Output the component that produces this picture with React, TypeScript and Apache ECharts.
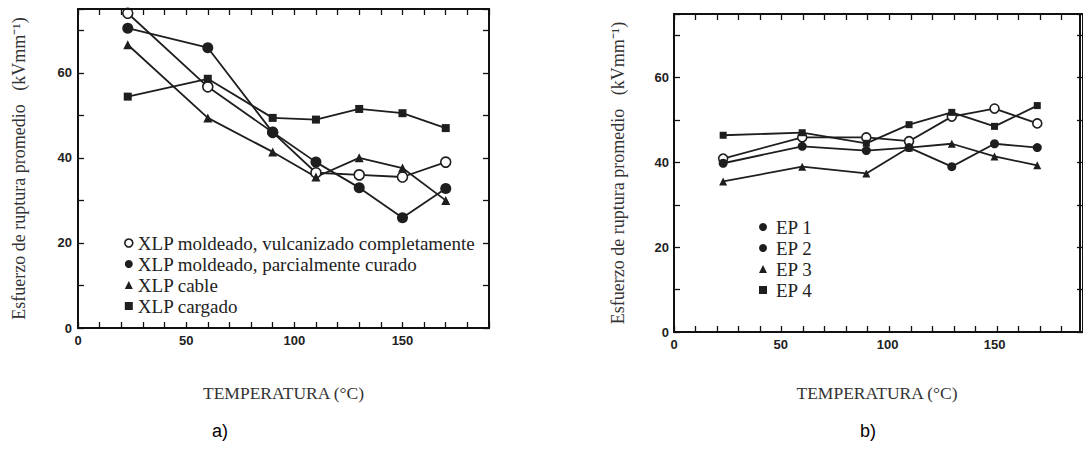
import React, { useEffect, useRef } from "react";
import * as echarts from "echarts";

// ---- data ----
const temps = [23, 60, 90, 110, 130, 150, 170];

// chart a)
const xlpVulcanizado = [74, 56.7, 46, 36.5, 36, 35.5, 39];
const xlpParcial = [70.5, 65.9, 46, 39, 33, 25.9, 32.8];
const xlpCable = [66.6, 49.4, 41.4, 35.5, 40, 37.6, 30];
const xlpCargado = [54.4, 58.6, 49.4, 49, 51.5, 50.5, 47];

// chart b)
const ep1 = [40.9, 45.9, 45.9, 45, 50.8, 52.7, 49.2];
const ep2 = [39.8, 43.8, 42.8, 43.5, 39, 44.4, 43.5];
const ep3 = [35.5, 39, 37.4, 43.5, 44.4, 41.4, 39.3];
const ep4 = [46.4, 47, 44.5, 48.9, 51.8, 48.5, 53.4];

const namesA = [
  "XLP moldeado, vulcanizado completamente",
  "XLP moldeado, parcialmente curado",
  "XLP cable",
  "XLP cargado",
];
const namesB = ["EP 1", "EP 2", "EP 3", "EP 4"];

const xTickLabels = [0, 50, 100, 150];
const yTickLabels = [0, 20, 40, 60];
const X_MAX = 190;
const Y_MAX = 75;

const xTitle = "TEMPERATURA (°C)";
const yTitle = "Esfuerzo de ruptura promedio\u00a0\u00a0\u00a0(kVmm\u207b\u00b9)";

const INK = "#1e1e1e";
const SERIF = "'Liberation Serif', 'Times New Roman', serif";
const SANS = "'Liberation Sans', Arial, sans-serif";

const GRIDS = [
  { left: 78, top: 9, width: 411, height: 319 },
  { left: 674, top: 14, width: 413, height: 318 },
];

function mkSeries(
  name: string,
  vals: number[],
  symbol: string,
  size: number,
  open: boolean,
  idx: number
) {
  return {
    name,
    type: "line",
    xAxisIndex: idx * 2,
    yAxisIndex: idx * 2,
    data: temps.map((t, i) => [t, vals[i]]),
    symbol,
    symbolSize: size,
    lineStyle: { color: INK, width: 1.8 },
    itemStyle: open
      ? { color: "#fff", borderColor: INK, borderWidth: 1.6 }
      : { color: INK, borderColor: INK, borderWidth: 0 },
  };
}

const mkLine = () => ({ show: true, onZero: false, lineStyle: { color: "#111", width: 2 } });

// main chart: series, labels, titles, legends
function axesFor(gridIndex: number, labelMarginY: number, nameGapX: number, nameGapY: number) {
  const labelStyle = () => ({
    color: "#222",
    fontFamily: SANS,
    fontWeight: "bold",
    fontSize: 13,
  });
  const xs = [
    {
      gridIndex,
      type: "value",
      position: "bottom",
      min: 0,
      max: X_MAX,
      interval: 10,
      axisLine: mkLine(),
      axisTick: { show: false },
      splitLine: { show: false },
      axisLabel: {
        ...labelStyle(),
        margin: 6,
        formatter: (v: number) => (xTickLabels.includes(v) ? String(v) : ""),
      },
      name: xTitle,
      nameLocation: "middle",
      nameGap: nameGapX,
      nameTextStyle: { fontFamily: SERIF, fontSize: 17.5, color: "#333" },
    },
    {
      gridIndex,
      type: "value",
      position: "top",
      min: 0,
      max: X_MAX,
      interval: 10,
      axisLine: mkLine(),
      axisTick: { show: false },
      splitLine: { show: false },
      axisLabel: { show: false },
    },
  ];
  const ys = [
    {
      gridIndex,
      type: "value",
      position: "left",
      min: 0,
      max: Y_MAX,
      interval: 10,
      axisLine: mkLine(),
      axisTick: { show: false },
      splitLine: { show: false },
      axisLabel: {
        ...labelStyle(),
        margin: labelMarginY,
        formatter: (v: number) => (yTickLabels.includes(v) ? String(v) : ""),
      },
      name: yTitle,
      nameLocation: "middle",
      nameRotate: 90,
      nameGap: nameGapY,
      nameTextStyle: { fontFamily: SERIF, fontSize: 18, color: "#333" },
    },
    {
      gridIndex,
      type: "value",
      position: "right",
      min: 0,
      max: Y_MAX,
      interval: 10,
      axisLine: mkLine(),
      axisTick: { show: false },
      splitLine: { show: false },
      axisLabel: { show: false },
    },
  ];
  return { xs, ys };
}

// overlay: the frame with its inward ticks on all four sides
function frameOption() {
  const tick = () => ({ show: true, inside: true, length: 6, lineStyle: { color: "#111", width: 1.3 } });
  const xAx = (g: number, position: string) => ({
    gridIndex: g,
    type: "value",
    position,
    min: 0,
    max: X_MAX,
    interval: 10,
    axisLine: mkLine(),
    axisTick: tick(),
    splitLine: { show: false },
    axisLabel: { show: false },
  });
  const yAx = (g: number, position: string) => ({
    gridIndex: g,
    type: "value",
    position,
    min: 0,
    max: Y_MAX,
    interval: 10,
    axisLine: mkLine(),
    axisTick: tick(),
    splitLine: { show: false },
    axisLabel: { show: false },
  });
  return {
    animation: false,
    grid: GRIDS,
    xAxis: [xAx(0, "bottom"), xAx(0, "top"), xAx(1, "bottom"), xAx(1, "top")],
    yAxis: [yAx(0, "left"), yAx(0, "right"), yAx(1, "left"), yAx(1, "right")],
    series: [],
  };
}

export default function App() {
  const ref = useRef<HTMLDivElement>(null);
  const frameRef = useRef<HTMLDivElement>(null);

  useEffect(() => {
    if (!ref.current || !frameRef.current) return;
    const chart = echarts.init(ref.current, undefined, { renderer: "svg" });
    const frame = echarts.init(frameRef.current, undefined, { renderer: "svg" });
    const a = axesFor(0, 6, 56, 50);
    const b = axesFor(1, 5, 52, 47);

    const legendText = () => ({
      fontFamily: SERIF,
      fontSize: 19,
      color: "#222",
      lineHeight: 20,
    });

    const option = {
      animation: false,
      grid: GRIDS,
      xAxis: [...a.xs, ...b.xs],
      yAxis: [...a.ys, ...b.ys],
      legend: [
        {
          orient: "vertical",
          left: 119,
          top: 228,
          itemWidth: 8,
          itemHeight: 8,
          itemGap: 1,
          selectedMode: false,
          textStyle: { ...legendText(), padding: [0, 0, 0, 0] },
          data: [
            {
              name: namesA[0],
              icon: "circle",
              itemStyle: { color: "#fff", borderColor: INK, borderWidth: 1.6 },
            },
            { name: namesA[1], icon: "circle" },
            { name: namesA[2], icon: "triangle" },
            { name: namesA[3], icon: "rect" },
          ],
        },
        {
          orient: "vertical",
          left: 754,
          top: 212,
          itemWidth: 8,
          itemHeight: 8,
          itemGap: 1,
          selectedMode: false,
          textStyle: { ...legendText(), padding: [0, 0, 0, 4] },
          data: [
            {
              name: namesB[0],
              icon: "circle",
              itemStyle: { color: INK, borderColor: INK, borderWidth: 0 },
            },
            { name: namesB[1], icon: "circle" },
            { name: namesB[2], icon: "triangle" },
            { name: namesB[3], icon: "rect" },
          ],
        },
      ],
      series: [
        mkSeries(namesA[0], xlpVulcanizado, "circle", 10, true, 0),
        mkSeries(namesA[1], xlpParcial, "circle", 11, false, 0),
        mkSeries(namesA[2], xlpCable, "triangle", 9, false, 0),
        mkSeries(namesA[3], xlpCargado, "rect", 8, false, 0),
        mkSeries(namesB[0], ep1, "circle", 9, true, 1),
        mkSeries(namesB[1], ep2, "circle", 9, false, 1),
        mkSeries(namesB[2], ep3, "triangle", 8, false, 1),
        mkSeries(namesB[3], ep4, "rect", 7, false, 1),
      ],
      graphic: [
        {
          type: "text",
          left: 212,
          top: 422,
          style: { text: "a)", font: `18px ${SANS}`, fill: "#000" },
        },
        {
          type: "text",
          left: 860,
          top: 422,
          style: { text: "b)", font: `18px ${SANS}`, fill: "#000" },
        },
      ],
    };
    chart.setOption(option as any);
    frame.setOption(frameOption() as any);
    return () => {
      chart.dispose();
      frame.dispose();
    };
  }, []);

  return (
    <div style={{ position: "absolute", left: 0, top: 0, width: 1083, height: 450, background: "#fff" }}>
      <div ref={ref} style={{ position: "absolute", left: 0, top: 0, width: 1083, height: 450 }} />
      <div
        ref={frameRef}
        style={{ position: "absolute", left: 0, top: 0, width: 1083, height: 450, pointerEvents: "none" }}
      />
    </div>
  );
}
